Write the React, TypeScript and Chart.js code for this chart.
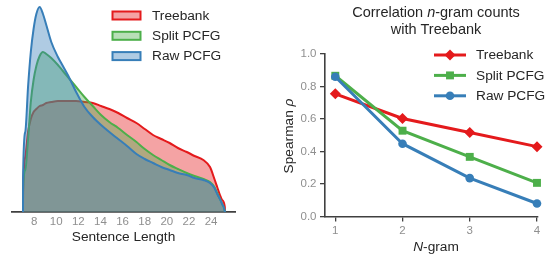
import React, { useEffect, useRef } from "react";
import { Chart, registerables } from "chart.js";

Chart.register(...registerables);

const FONT = '"Liberation Sans", Arial, Helvetica, sans-serif';

// ---------- Left panel: sentence length densities ----------
const lengthGrid = [
  6.995, 7.0, 7.2, 7.45, 7.7, 7.95, 8.2, 8.5, 8.8, 9.1,
  9.55, 10.15, 10.6, 11.05, 11.8, 12.55, 13.3, 14.05, 14.8, 15.6,
  16.4, 17.25, 18.0, 18.75, 19.5, 20.25, 21.0, 21.8, 22.5, 23.3,
  23.9, 24.3, 24.55, 24.8, 25.0, 25.24, 25.25,
];
const treebankDensity = [
  0, 0.0075, 0.0275, 0.04, 0.0465, 0.05, 0.0515, 0.053, 0.0535, 0.0545,
  0.055, 0.0555, 0.0555, 0.0555, 0.0555, 0.055, 0.0545, 0.053, 0.0515, 0.0495,
  0.047, 0.0445, 0.0415, 0.0385, 0.0365, 0.0345, 0.032, 0.03, 0.028, 0.026,
  0.0225, 0.0165, 0.0125, 0.0085, 0.006, 0.0025, 0,
];
const splitDensity = [
  0, 0.011, 0.021, 0.036, 0.055, 0.066, 0.073, 0.078, 0.08, 0.079,
  0.077, 0.0735, 0.0705, 0.0675, 0.0625, 0.0575, 0.053, 0.0485, 0.045, 0.042,
  0.0385, 0.035, 0.0315, 0.0285, 0.026, 0.0235, 0.0215, 0.0195, 0.018, 0.0165,
  0.015, 0.0125, 0.0095, 0.0065, 0.004, 0.0005, 0,
];
const rawDensity = [
  0, 0.0175, 0.04, 0.0625, 0.08, 0.0915, 0.099, 0.1025, 0.099, 0.0935,
  0.085, 0.0775, 0.073, 0.0685, 0.06, 0.0525, 0.0475, 0.0435, 0.04, 0.0365,
  0.033, 0.029, 0.0265, 0.0245, 0.0225, 0.021, 0.0195, 0.0185, 0.017, 0.016,
  0.0145, 0.012, 0.009, 0.0065, 0.004, 0.0005, 0,
];
const lengthTicks = [8, 10, 12, 14, 16, 18, 20, 22, 24];

// ---------- Right panel: correlation of n-gram counts ----------
const ngrams = [1, 2, 3, 4];
const treebankCorr = [0.755, 0.603, 0.517, 0.43];
const splitCorr = [0.866, 0.528, 0.367, 0.207];
const rawCorr = [0.86, 0.448, 0.236, 0.08];
const corrTicks = [0, 0.2, 0.4, 0.6, 0.8, 1.0];

const seriesNames = ["Treebank", "Split PCFG", "Raw PCFG"];
const seriesColors = ["#e41a1c", "#4daf4a", "#377eb8"];
const seriesFills = ["rgba(228,26,28,0.4)", "rgba(77,175,74,0.4)", "rgba(55,126,184,0.4)"];
const seriesMarkers = ["rectRot", "rect", "circle"];
const markerRadii = [5.5, 5.6, 4.3];

const TEXT = "#262626";
const TICK = "#8f8f8f";
const AXIS = "#404040";

function pts(xs: number[], ys: number[]) {
  return xs.map((x, i) => ({ x, y: ys[i] }));
}

type Seg = [string, boolean];
function drawRich(ctx: CanvasRenderingContext2D, segs: Seg[], cx: number, y: number, size: number) {
  const fontOf = (it: boolean) => `${it ? "italic " : ""}${size}px ${FONT}`;
  let total = 0;
  segs.forEach(([t, it]) => {
    ctx.font = fontOf(it);
    total += ctx.measureText(t).width;
  });
  let x = cx - total / 2;
  ctx.textAlign = "left";
  segs.forEach(([t, it]) => {
    ctx.font = fontOf(it);
    ctx.fillText(t, x, y);
    x += ctx.measureText(t).width;
  });
}

function drawMarker(ctx: CanvasRenderingContext2D, kind: string, x: number, y: number, r: number) {
  ctx.beginPath();
  if (kind === "circle") {
    ctx.arc(x, y, r, 0, Math.PI * 2);
  } else if (kind === "rect") {
    const s = Math.SQRT1_2 * r;
    ctx.rect(x - s, y - s, 2 * s, 2 * s);
  } else {
    ctx.moveTo(x, y - r);
    ctx.lineTo(x + r, y);
    ctx.lineTo(x, y + r);
    ctx.lineTo(x - r, y);
    ctx.closePath();
  }
  ctx.fill();
}

const densityLegend = {
  id: "densityLegend",
  afterDraw(chart: any) {
    const ctx: CanvasRenderingContext2D = chart.ctx;
    ctx.save();
    seriesNames.forEach((name, i) => {
      const cy = 15.5 + i * 20.3;
      ctx.fillStyle = seriesFills[i];
      ctx.fillRect(112.5, cy - 4, 28, 8);
      ctx.strokeStyle = seriesColors[i];
      ctx.lineWidth = 2;
      ctx.strokeRect(112.5, cy - 4, 28, 8);
      ctx.fillStyle = TEXT;
      ctx.font = `13.7px ${FONT}`;
      ctx.textBaseline = "middle";
      ctx.textAlign = "left";
      ctx.fillText(name, 152, cy + 0.5);
    });
    ctx.restore();
  },
};

const corrDecor = {
  id: "corrDecor",
  afterDraw(chart: any) {
    const ctx: CanvasRenderingContext2D = chart.ctx;
    ctx.save();
    // legend
    seriesNames.forEach((name, i) => {
      const cy = 55 + i * 20.4;
      ctx.strokeStyle = seriesColors[i];
      ctx.lineWidth = 3;
      ctx.beginPath();
      ctx.moveTo(158, cy);
      ctx.lineTo(190, cy);
      ctx.stroke();
      ctx.fillStyle = seriesColors[i];
      drawMarker(ctx, seriesMarkers[i], 174, cy, markerRadii[i]);
      ctx.fillStyle = TEXT;
      ctx.font = `13.7px ${FONT}`;
      ctx.textBaseline = "middle";
      ctx.textAlign = "left";
      ctx.fillText(name, 200, cy + 0.5);
    });
    // title
    ctx.fillStyle = TEXT;
    ctx.textBaseline = "alphabetic";
    drawRich(ctx, [["Correlation ", false], ["n", true], ["-gram counts", false]], 160, 17.3, 14.5);
    drawRich(ctx, [["with Treebank", false]], 160, 34.3, 14.5);
    // x label
    drawRich(ctx, [["N", true], ["-gram", false]], 160, 251, 13.7);
    // y label
    ctx.translate(16.5, 136);
    ctx.rotate(-Math.PI / 2);
    drawRich(ctx, [["Spearman ", false], ["\u03c1", true]], 0, 0, 13.7);
    ctx.restore();
  },
};

export default function App() {
  const leftRef = useRef<HTMLCanvasElement>(null);
  const rightRef = useRef<HTMLCanvasElement>(null);

  useEffect(() => {
    const densities = [treebankDensity, splitDensity, rawDensity];
    const left = new Chart(leftRef.current!, {
      type: "line",
      data: {
        datasets: densities.map((d, i) => ({
          label: seriesNames[i],
          data: pts(lengthGrid, d),
          borderColor: seriesColors[i],
          backgroundColor: seriesFills[i],
          borderWidth: 2,
          fill: "origin",
          pointRadius: 0,
          cubicInterpolationMode: "monotone",
          order: 3 - i,
        })),
      },
      options: {
        responsive: false,
        animation: false,
        devicePixelRatio: 1,
        events: [],
        layout: { padding: { left: 12, right: 41, top: 2, bottom: 0 } },
        plugins: { legend: { display: false }, tooltip: { enabled: false } },
        scales: {
          x: {
            type: "linear",
            min: 6,
            max: 26.16,
            afterBuildTicks: (s: any) => {
              s.ticks = lengthTicks.map((v) => ({ value: v }));
            },
            afterFit: (s: any) => {
              s.height = 43;
            },
            grid: { display: false, drawTicks: false },
            border: { display: true, color: AXIS, width: 1.8 },
            ticks: {
              color: TICK,
              padding: 3,
              maxRotation: 0,
              autoSkip: false,
              font: { size: 11.5, family: FONT },
              callback: (v: any) => String(v),
            },
            title: {
              display: true,
              text: "Sentence Length",
              color: TEXT,
              font: { size: 13.7, family: FONT },
              padding: { top: 0, bottom: 9.2 },
            },
          },
          y: { display: false, min: 0, max: 0.105 },
        },
      },
      plugins: [densityLegend],
    } as any);

    const corrs = [treebankCorr, splitCorr, rawCorr];
    const right = new Chart(rightRef.current!, {
      type: "line",
      data: {
        datasets: corrs.map((d, i) => ({
          label: seriesNames[i],
          data: pts(ngrams, d),
          borderColor: seriesColors[i],
          backgroundColor: seriesColors[i],
          borderWidth: 3,
          pointStyle: seriesMarkers[i],
          pointRadius: markerRadii[i],
          pointBorderWidth: 0,
          pointBackgroundColor: seriesColors[i],
          fill: false,
          tension: 0,
          clip: false,
          order: 3 - i,
        })),
      },
      options: {
        responsive: false,
        animation: false,
        devicePixelRatio: 1,
        events: [],
        layout: { padding: { left: 0, right: 14, top: 54, bottom: 0 } },
        plugins: { legend: { display: false }, tooltip: { enabled: false } },
        scales: {
          x: {
            type: "linear",
            min: 0.847,
            max: 4.015,
            afterBuildTicks: (s: any) => {
              s.ticks = ngrams.map((v) => ({ value: v }));
            },
            afterFit: (s: any) => {
              s.height = 38.5;
            },
            grid: { display: true, drawOnChartArea: false, drawTicks: true, tickLength: 5, color: AXIS, lineWidth: 1.3 },
            border: { display: true, color: AXIS, width: 1.6 },
            ticks: {
              color: TICK,
              padding: 2,
              maxRotation: 0,
              autoSkip: false,
              font: { size: 11.5, family: FONT },
              callback: (v: any) => String(v),
            },
          },
          y: {
            min: 0,
            max: 1,
            afterBuildTicks: (s: any) => {
              s.ticks = corrTicks.map((v) => ({ value: v }));
            },
            afterFit: (s: any) => {
              s.width = 49;
            },
            grid: { display: true, drawOnChartArea: false, drawTicks: true, tickLength: 5, color: AXIS, lineWidth: 1.3 },
            border: { display: true, color: AXIS, width: 1.6 },
            ticks: {
              color: TICK,
              padding: 3.5,
              autoSkip: false,
              font: { size: 11.5, family: FONT },
              callback: (v: any) => Number(v).toFixed(1),
            },
          },
        },
      },
      plugins: [corrDecor],
    } as any);

    return () => {
      left.destroy();
      right.destroy();
    };
  }, []);

  return (
    <div style={{ position: "absolute", left: 0, top: 0, width: 552, height: 255, background: "#fff" }}>
      <canvas ref={leftRef} width={276} height={255} style={{ position: "absolute", left: 0, top: 0 }} />
      <canvas ref={rightRef} width={276} height={255} style={{ position: "absolute", left: 276, top: 0 }} />
    </div>
  );
}
